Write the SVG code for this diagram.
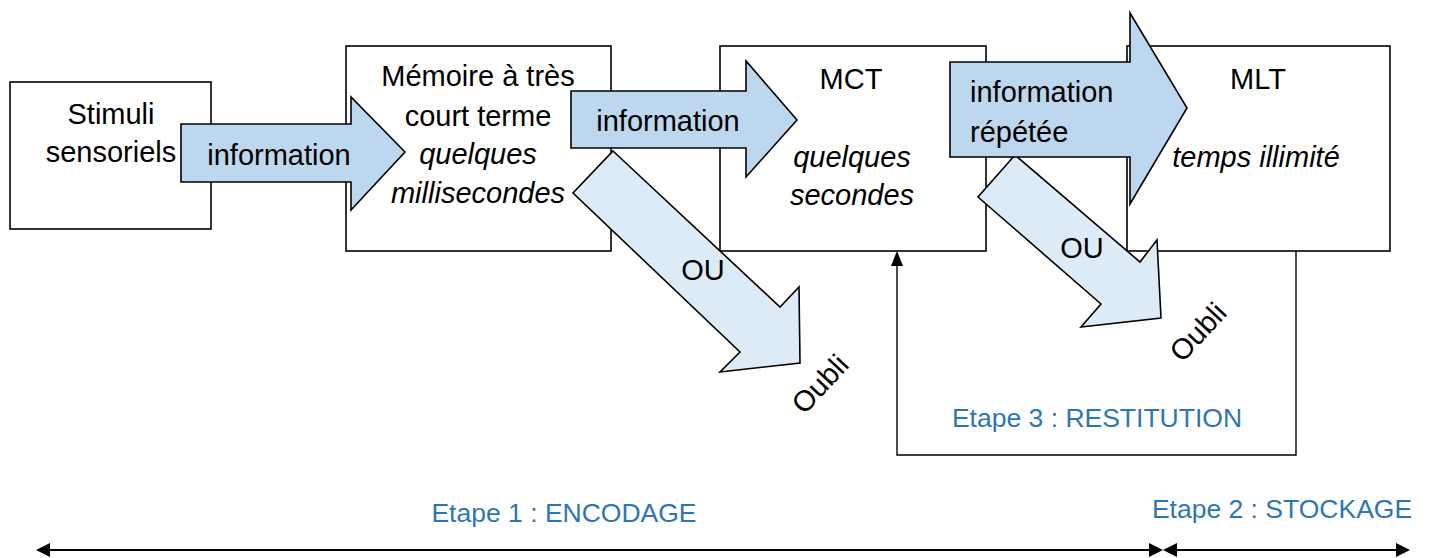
<svg xmlns="http://www.w3.org/2000/svg" width="1431" height="558" viewBox="0 0 1431 558">
<style>
.box{fill:#fff;stroke:#000;stroke-width:1.6}
.arr{fill:#BDD7EE;stroke:#000;stroke-width:1.6;stroke-linejoin:miter}
.diag{fill:#DDEBF7;stroke:#000;stroke-width:1.6}
.t{font-family:"Liberation Sans",Arial,sans-serif;font-size:29px;fill:#000;text-anchor:middle}
.i{font-style:italic}
.b{font-family:"Liberation Sans",Arial,sans-serif;font-size:26.5px;fill:#2E75B6;text-anchor:middle}
.ln{fill:none;stroke:#000;stroke-width:1.4}
.ln2{fill:none;stroke:#000;stroke-width:2.2}
</style>
<rect width="1431" height="558" fill="#fff"/>
<g id="node-stimuli">
<rect class="box" x="10" y="82" width="201" height="147"/>
<text class="t" x="111" y="124">Stimuli</text>
<text class="t" x="111" y="162">sensoriels</text>
</g>
<g id="node-mtct">
<rect class="box" x="346" y="46" width="265" height="205"/>
<text class="t" x="478" y="86">Mémoire à très</text>
<text class="t" x="478" y="126">court terme</text>
<text class="t i" x="478" y="164">quelques</text>
<text class="t i" x="478" y="203">millisecondes</text>
</g>
<g id="node-mct">
<rect class="box" x="720" y="46" width="266" height="205"/>
<text class="t" x="851" y="89">MCT</text>
<text class="t i" x="852" y="167">quelques</text>
<text class="t i" x="852" y="205">secondes</text>
</g>
<g id="node-mlt">
<rect class="box" x="1127" y="46" width="263" height="205"/>
<text class="t" x="1258" y="89">MLT</text>
<text class="t i" x="1256" y="167">temps illimité</text>
</g>
<g id="connectors">
<polyline class="ln" points="897,264 897,455 1296,455 1296,251"/>
<polygon points="897,251 891,266 903,266" fill="#000"/>
<text class="b" x="1097" y="427">Etape 3 : RESTITUTION</text>
<g id="arrow-info1">
<polygon class="arr" points="181,124 351,124 351,97 405,152 351,210 351,182 181,182"/>
<text class="t" x="279" y="165">information</text>
</g>
<g id="arrow-oubli1">
<polygon class="diag" points="613,151 780,307 799,287 800,363 720,372 740,352 573,193"/>
<text class="t" x="703" y="280">OU</text>
<text class="t" transform="translate(820,384) rotate(-47)" x="0" y="10">Oubli</text>
</g>
<g id="arrow-info2">
<polygon class="arr" points="571,91 746,91 746,61 797,120 746,177 746,148 571,148"/>
<text class="t" x="668" y="131">information</text>
</g>
<g id="arrow-oubli2">
<polygon class="diag" points="1015,155 1140,262 1157,240 1161,318 1081,327 1101,304 978,197"/>
<text class="t" x="1082" y="258">OU</text>
<text class="t" transform="translate(1198,332) rotate(-47)" x="0" y="10">Oubli</text>
</g>
<g id="arrow-info3">
<polygon class="arr" points="950,62 1130,62 1130,13 1187,108 1130,204 1130,157 950,157"/>
<text class="t" x="970" y="102" style="text-anchor:start">information</text>
<text class="t" x="970" y="142" style="text-anchor:start">répétée</text>
</g>
<g id="timeline">
<line class="ln2" x1="48" y1="550" x2="1152" y2="550"/>
<line class="ln2" x1="1174" y1="550" x2="1398" y2="550"/>
<polygon points="36,550 50,543 50,557" fill="#000"/>
<polygon points="1163,550 1149,543 1149,557" fill="#000"/>
<polygon points="1163,550 1177,543 1177,557" fill="#000"/>
<polygon points="1410,550 1396,543 1396,557" fill="#000"/>
<text class="b" x="564" y="522">Etape 1 : ENCODAGE</text>
<text class="b" x="1282" y="518">Etape 2 : STOCKAGE</text>
</g>
</g>
</svg>
